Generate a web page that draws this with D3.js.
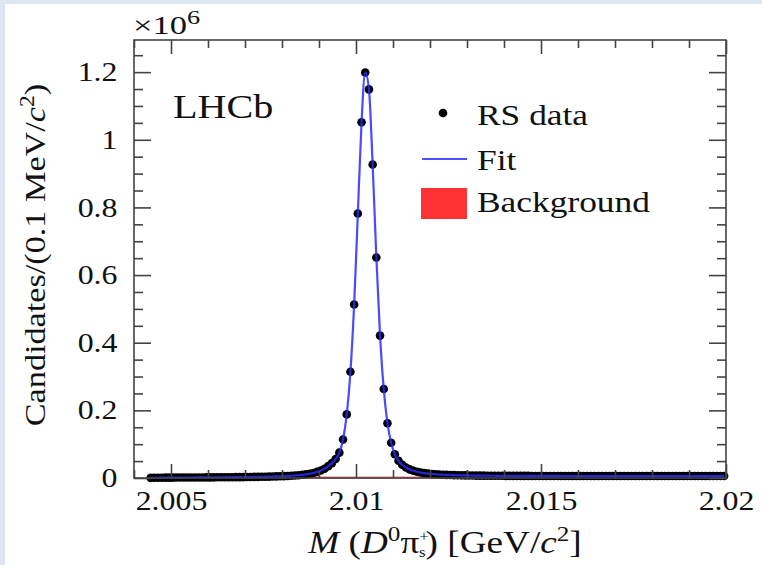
<!DOCTYPE html>
<html><head><meta charset="utf-8">
<script src="https://cdn.jsdelivr.net/npm/d3@7"></script>
<style>
html,body{margin:0;padding:0;background:#fff;}
svg{display:block;}
text{font-family:"Liberation Serif","Times New Roman",serif;fill:#111;}
</style></head>
<body>
<svg id="chart" width="762" height="565"></svg>
<script>
// ---- data (values in units of 10^6 candidates per 0.1 MeV/c^2 bin) ----
const binStart = 2.00445;   // first bin centre, GeV/c^2
const binWidth = 0.0001;    // 0.1 MeV/c^2
const rsData = [
 0.0004,0.0006,0.0008,0.0009,0.0010,0.0011,0.0012,0.0013,0.0013,0.0014,
 0.0015,0.0015,0.0016,0.0017,0.0017,0.0018,0.0019,0.0019,0.0020,0.0021,
 0.0022,0.0023,0.0024,0.0025,0.0026,0.0027,0.0029,0.0030,0.0032,0.0034,
 0.0036,0.0038,0.0041,0.0044,0.0047,0.0051,0.0056,0.0061,0.0067,0.0074,
 0.0083,0.0094,0.0108,0.0126,0.0150,0.0180,0.0220,0.0275,0.0350,0.0440,
 0.0560,0.075,0.114,0.188,0.314,0.513,0.782,1.052,1.199,1.149,
 0.927,0.652,0.421,0.263,0.162,0.104,0.070,0.051,0.039,0.031,
 0.0255,0.0215,0.0185,0.0162,0.0145,0.0131,0.0120,0.0111,0.0104,0.0098,
 0.0093,0.0089,0.0085,0.0082,0.0079,0.0077,0.0075,0.0073,0.0071,0.0070,
 0.0069,0.0068,0.0067,0.0066,0.0065,0.0065,0.0064,0.0064,0.0063,0.0063,
 0.0062,0.0062,0.0062,0.0061,0.0061,0.0061,0.0060,0.0060,0.0060,0.0060,
 0.0060,0.0059,0.0059,0.0059,0.0059,0.0059,0.0059,0.0058,0.0058,0.0058,
 0.0058,0.0058,0.0058,0.0058,0.0058,0.0058,0.0058,0.0058,0.0058,0.0058,
 0.0058,0.0058,0.0058,0.0058,0.0058,0.0058,0.0058,0.0058,0.0058,0.0058,
 0.0058,0.0058,0.0058,0.0058,0.0058,0.0058,0.0058,0.0058,0.0058,0.0058,
 0.0058,0.0058,0.0058,0.0058,0.0058,0.0058
];
const bkgMass = [2.0044,2.0045,2.0055,2.0065,2.0075,2.0085,2.0095,2.0105,2.0115,2.0125,2.0135,2.0145,2.0155,2.0165,2.0175,2.0185,2.0195,2.0200];
const bkgValues = [0,0.0004,0.0009,0.0013,0.0016,0.0019,0.0021,0.0023,0.0025,0.0027,0.0029,0.0031,0.0032,0.0034,0.0035,0.0036,0.0037,0.0038];
const xMajorTicks = [2.005, 2.010, 2.015, 2.020];
const xMajorLabels = ["2.005", "2.01", "2.015", "2.02"];
const xMinorTicks = [2.004,2.006,2.007,2.008,2.009,2.011,2.012,2.013,2.014,2.016,2.017,2.018,2.019];
const yMajorTicks = [0, 0.2, 0.4, 0.6, 0.8, 1.0, 1.2];
const yMajorLabels = ["0", "0.2", "0.4", "0.6", "0.8", "1", "1.2"];
const yMinorTicks = [0.05,0.1,0.15,0.25,0.3,0.35,0.45,0.5,0.55,0.65,0.7,0.75,0.85,0.9,0.95,1.05,1.1,1.15,1.25];
const legendLabels = ["RS data", "Fit", "Background"];

// ---- layout ----
const W = 762, H = 565;
const L = 134, R = 726, T = 40, B = 478;
const SX = 1.18; // horizontal stretch of glyphs
const svg = d3.select("#chart");
svg.append("rect").attr("width", W).attr("height", H).attr("fill", "#fff");
// screenshot border
svg.append("rect").attr("x",0).attr("y",0).attr("width",W).attr("height",4).attr("fill","#dde6f1");
svg.append("rect").attr("x",0).attr("y",0).attr("width",5).attr("height",H).attr("fill","#dde6f1");

const x = d3.scaleLinear().domain([2.004, 2.020]).range([L, R]);
const y = d3.scaleLinear().domain([0, 1.295]).range([B, T]);

const points = rsData.map((v, i) => ({m: binStart + i * binWidth, v}));

// background area
const bkg = bkgMass.map((m, i) => ({m, v: bkgValues[i]}));
svg.append("path").datum(bkg)
  .attr("d", d3.area().x(d => x(d.m)).y0(y(0)).y1(d => y(d.v)))
  .attr("fill", "#f44").attr("stroke", "#f07070").attr("stroke-width", 1.5);

// data points
svg.append("g").selectAll("circle").data(points).join("circle")
  .attr("cx", d => x(d.m)).attr("cy", d => y(d.v)).attr("r", 4.3)
  .attr("fill", "#000");

// fit line
svg.append("path").datum(points)
  .attr("d", d3.line().x(d => x(d.m)).y(d => y(d.v)).curve(d3.curveMonotoneX))
  .attr("fill", "none").attr("stroke", "#2a2aff").attr("stroke-opacity", 0.85).attr("stroke-width", 2.2);

// axes
const axisColor = "#444";
function styleAxis(g) {
  g.select(".domain").remove();
  g.selectAll("line").attr("stroke", axisColor).attr("stroke-width", 1.6);
}
const gx = svg.append("g").attr("transform", `translate(0,${B})`)
  .call(d3.axisBottom(x).tickValues(xMajorTicks).tickSize(-14).tickSizeOuter(0).tickPadding(13)
    .tickFormat((d, i) => xMajorLabels[i]));
styleAxis(gx);
gx.selectAll("text").attr("font-size", 27).attr("transform", `scale(${SX},1)`).attr("fill", "#111");
const gxm = svg.append("g").attr("transform", `translate(0,${B})`)
  .call(d3.axisBottom(x).tickValues(xMinorTicks).tickSize(-8).tickSizeOuter(0).tickFormat(""));
styleAxis(gxm);
const gxt = svg.append("g").attr("transform", `translate(0,${T})`)
  .call(d3.axisTop(x).tickValues(xMajorTicks).tickSize(-14).tickSizeOuter(0).tickFormat(""));
styleAxis(gxt);
const gxtm = svg.append("g").attr("transform", `translate(0,${T})`)
  .call(d3.axisTop(x).tickValues(xMinorTicks).tickSize(-8).tickSizeOuter(0).tickFormat(""));
styleAxis(gxtm);

const gy = svg.append("g").attr("transform", `translate(${L},0)`)
  .call(d3.axisLeft(y).tickValues(yMajorTicks).tickSize(-17).tickSizeOuter(0).tickPadding(14)
    .tickFormat((d, i) => yMajorLabels[i]));
styleAxis(gy);
gy.selectAll("text").attr("font-size", 27).attr("transform", `scale(${SX},1)`).attr("fill", "#111");
const gym = svg.append("g").attr("transform", `translate(${L},0)`)
  .call(d3.axisLeft(y).tickValues(yMinorTicks).tickSize(-9).tickSizeOuter(0).tickFormat(""));
styleAxis(gym);
const gyr = svg.append("g").attr("transform", `translate(${R},0)`)
  .call(d3.axisRight(y).tickValues(yMajorTicks).tickSize(-17).tickSizeOuter(0).tickFormat(""));
styleAxis(gyr);
const gyrm = svg.append("g").attr("transform", `translate(${R},0)`)
  .call(d3.axisRight(y).tickValues(yMinorTicks).tickSize(-9).tickSizeOuter(0).tickFormat(""));
styleAxis(gyrm);

// frame
svg.append("rect").attr("x", L).attr("y", T).attr("width", R - L).attr("height", B - T)
  .attr("fill", "none").attr("stroke", axisColor).attr("stroke-width", 1.6);

// text helper
function stext(px, py, size, anchor, rot, sx) {
  const s = sx || SX;
  const g = svg.append("g").attr("transform", `translate(${px},${py})` + (rot ? ` rotate(${rot})` : "") + ` scale(${s},1)`);
  return g.append("text").attr("font-size", size).attr("text-anchor", anchor);
}

// x10^6
const ex = stext(133, 34, 25, "start", 0, 1.38);
ex.append("tspan").text("×10");
ex.append("tspan").attr("font-size", 19).attr("dy", -10).text("6");

// LHCb
stext(173, 118, 34, "start").text("LHCb");

// legend
svg.append("circle").attr("cx", 443).attr("cy", 113).attr("r", 4.3).attr("fill", "#000");
stext(477, 125, 30, "start").text(legendLabels[0]);
svg.append("line").attr("x1", 422).attr("x2", 467).attr("y1", 159).attr("y2", 159)
  .attr("stroke", "#5050ff").attr("stroke-width", 2);
stext(477, 170, 30, "start").text(legendLabels[1]);
svg.append("rect").attr("x", 421).attr("y", 188).attr("width", 46).attr("height", 31).attr("fill", "#f33");
stext(477, 212, 30, "start").text(legendLabels[2]);

// x title
const xt = stext(445, 553, 31, "middle", 0, 1.2);
xt.append("tspan").attr("font-style", "italic").text("M");
xt.append("tspan").text(" (");
xt.append("tspan").attr("font-style", "italic").text("D");
xt.append("tspan").attr("font-size", 21).attr("dy", -12).text("0");
xt.append("tspan").attr("dy", 12).text("π");
xt.append("tspan").attr("font-size", 14).attr("dy", -12).text("+");
xt.append("tspan").attr("font-size", 14).attr("dx", -8).attr("dy", 16).text("s");
xt.append("tspan").attr("dy", -4).text(") [GeV/");
xt.append("tspan").attr("font-style", "italic").text("c");
xt.append("tspan").attr("font-size", 21).attr("dy", -12).text("2");
xt.append("tspan").attr("dy", 12).text("]");

// y title
const yt = stext(45, 255, 29, "middle", -90);
yt.append("tspan").text("Candidates/(0.1 MeV/");
yt.append("tspan").attr("font-style", "italic").text("c");
yt.append("tspan").attr("font-size", 20).attr("dy", -11).text("2");
yt.append("tspan").attr("dy", 11).text(")");
</script>
</body></html>
